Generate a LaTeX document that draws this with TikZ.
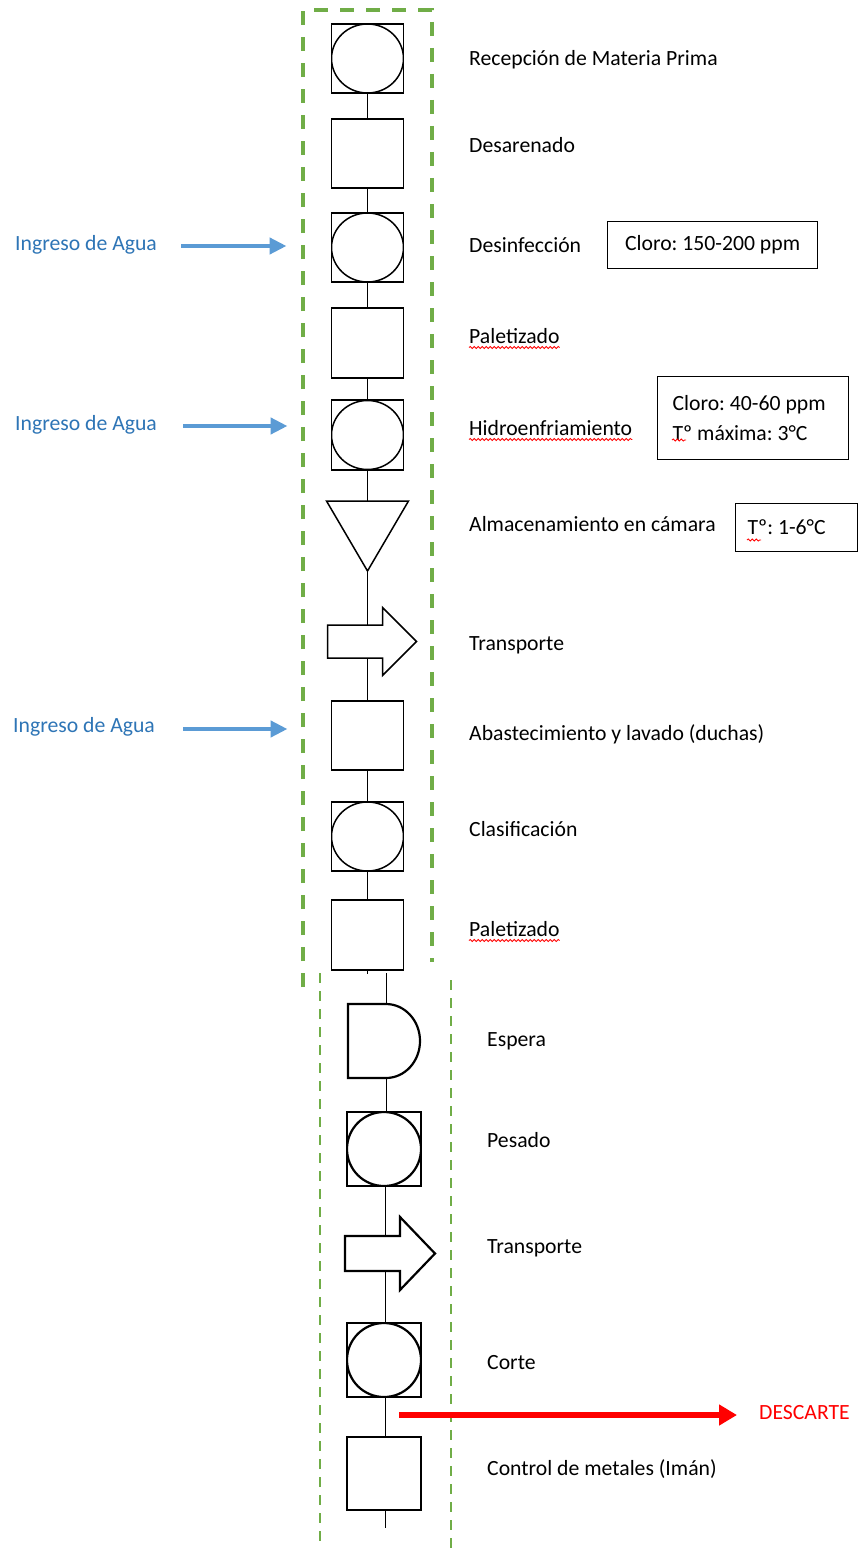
\documentclass[tikz,border=0pt]{standalone}
\usepackage{fontspec}
\setmainfont{Carlito}
\usetikzlibrary{arrows.meta,decorations.pathmorphing}
\definecolor{grn}{HTML}{70AD47}
\definecolor{bluA}{HTML}{5B9BD5}
\definecolor{bluT}{HTML}{2E75B6}
\newcommand\myfs{\fontsize{21.7pt}{30pt}\selectfont\frenchspacing}
\begin{document}
\begin{tikzpicture}[x=1pt,y=1pt,
  sq/.style={draw, line width=1.5pt, minimum width=72pt, minimum height=69pt, inner sep=0pt, outer sep=0pt},
  sqc/.style={sq, path picture={\draw[line width=1.5pt] (path picture bounding box.center) ellipse [x radius=36pt, y radius=34.5pt];}},
  bsq/.style={draw, line width=2.2pt, minimum width=74pt, minimum height=74pt, inner sep=0pt, outer sep=0pt},
  bsqc/.style={bsq, path picture={\draw[line width=2.2pt] (path picture bounding box.center) ellipse [x radius=37pt, y radius=37pt];}},
  helper/.style={draw=none, inner sep=0pt, outer sep=0pt},
  tline/.style={line width=1.5pt},
  bline/.style={line width=1pt},
  tshape/.style={line width=1.5pt, line join=miter},
  bshape/.style={line width=2.2pt, line join=miter},
  lbl/.style={anchor=base west, inner sep=0pt, font=\myfs},
  note/.style={draw, line width=1.2pt, inner sep=0pt, font=\myfs, align=flush left, anchor=north west},
  agua/.style={anchor=base west, inner sep=0pt, font=\myfs, text=bluT},
  bluarrow/.style={draw=bluA, line width=4.5pt, -{Triangle[length=17pt,width=16pt]}},
  redarrow/.style={draw=red, line width=6pt, -{Triangle[length=18pt,width=20pt]}},
  gdashT/.style={draw=grn, line width=3.5pt, dash pattern=on 14pt off 12pt},
  gdashB/.style={draw=grn, line width=2.5pt, dash pattern=on 10pt off 8pt},
  squig/.style={draw=red, line width=0.8pt, decorate, decoration={snake, segment length=4pt, amplitude=1.1pt}}
]
\useasboundingbox (0,0) rectangle (858,-1549);
\fill[white] (0,0) rectangle (858,-1549);

% green dashed frames
\draw[gdashT] (303,-987) -- (303,-10) -- (432,-10) -- (432,-962);
\draw[gdashB] (320,-973) -- (320,-1549);
\draw[gdashB] (451,-980) -- (451,-1549);

% top column
\node[sqc] (r1) at (367.5,-58.5) {};
\node[sq]  (r2) at (367.5,-153.5) {};
\node[sqc] (r3) at (367.5,-247.5) {};
\node[sq, minimum height=70pt] (r4) at (367.5,-343) {};
\node[sqc, minimum height=70pt] (r5) at (367.5,-435) {};
\node[helper, minimum width=82pt, minimum height=70pt] (r6) at (367.5,-536) {};
\draw[tshape] (r6.north west) -- (r6.north east) -- (r6.south) -- cycle;
\node[helper, minimum width=0pt, minimum height=33pt] (r7) at (367.5,-641.5) {};
\begin{scope}[shift={(r7.center)}]
  \draw[tshape] (-40,16.5) -- (15,16.5) -- (15,34) -- (49,0) -- (15,-34) -- (15,-16.5) -- (-40,-16.5) -- cycle;
\end{scope}
\node[sq]  (r8) at (367.5,-735.5) {};
\node[sqc] (r9) at (367.5,-836.5) {};
\node[sq, minimum height=70pt] (r10) at (367.5,-935) {};

\draw[tline] (r1.south) -- (r2.north);
\draw[tline] (r2.south) -- (r3.north);
\draw[tline] (r3.south) -- (r4.north);
\draw[tline] (r4.south) -- (r5.north);
\draw[tline] (r5.south) -- (r6.north);
\draw[tline] (r6.south) -- (r7.north);
\draw[tline] (r7.south) -- (r8.north);
\draw[tline] (r8.south) -- (r9.north);
\draw[tline] (r9.south) -- (r10.north);
\coordinate (stub) at ([yshift=-4pt]r10.south);
\draw[tline] (r10.south) -- (stub);

% bottom column
\node[helper, minimum width=72pt, minimum height=74pt] (b1) at (384,-1041) {};
\draw[bshape] (b1.north west) -- ([xshift=-34pt]b1.north east) arc[start angle=90, end angle=-90, x radius=34pt, y radius=37pt] -- (b1.south west) -- cycle;
\node[bsqc] (b2) at (384,-1149) {};
\node[helper, minimum width=0pt, minimum height=35pt] (b3) at (385,-1253.5) {};
\begin{scope}[shift={(b3.center)}]
  \draw[bshape] (-40,17.5) -- (15,17.5) -- (15,36.5) -- (50,0) -- (15,-36.5) -- (15,-17.5) -- (-40,-17.5) -- cycle;
\end{scope}
\node[bsqc] (b4) at (384,-1360) {};
\node[bsq, minimum height=73pt] (b5) at (384,-1473.5) {};
\coordinate (btop) at (386,-973);
\coordinate (bend) at (385,-1528);

\draw[bline] (btop) -- (btop |- b1.north);
\draw[bline] (b1.south -| btop) -- (b2.north -| btop);
\draw[bline] (b2.south -| b3.center) -- (b3.north);
\draw[bline] (b3.south) -- (b4.north -| b3.center);
\draw[bline] (b4.south -| b3.center) -- (b5.north -| b3.center);
\draw[bline] (b5.south -| bend) -- (bend);

% labels
\node[lbl] (l1) at (469,-66) {Recepción de Materia Prima};
\node[lbl] (l2) at (469,-153) {Desarenado};
\node[lbl] (l3) at (469,-252) {Desinfección};
\node[lbl] (l4) at (469,-343) {Paletizado};
\node[lbl] (l5) at (469,-435) {Hidroenfriamiento};
\node[lbl] (l6) at (469,-531) {Almacenamiento en cámara};
\node[lbl] (l7) at (469,-650) {Transporte};
\node[lbl] (l8) at (469,-740) {Abastecimiento y lavado (duchas)};
\node[lbl] (l9) at (469,-836) {Clasificación};
\node[lbl] (l10) at (469,-936) {Paletizado};
\node[lbl] (m1) at (487,-1046) {Espera};
\node[lbl] (m2) at (487,-1147) {Pesado};
\node[lbl] (m3) at (487,-1253) {Transporte};
\node[lbl] (m4) at (487,-1369) {Corte};
\node[lbl] (m5) at (487,-1475) {Control de metales (Imán)};

% notes
\node[note, minimum width=210pt, minimum height=47pt] (n1) at (607,-221) {Cloro: 150-200 ppm};
\node[note, inner xsep=15pt, text width=161pt, minimum height=83pt] (n2) at (657,-376) {Cloro: 40-60 ppm\\Tº máxima: 3°C};
\node[note, inner xsep=12pt, text width=98pt, minimum height=48pt] (n3) at (735,-503) {Tº: 1-6°C};

% spell-check squiggles
\draw[squig] ([yshift=-4.5pt]l4.base west) -- ([yshift=-4.5pt]l4.base east);
\draw[squig] ([yshift=-4.5pt]l10.base west) -- ([yshift=-4.5pt]l10.base east);
\draw[squig] ([yshift=-4.5pt]l5.base west) -- ([yshift=-4.5pt]l5.base east);
\draw[squig] ([xshift=15pt,yshift=-64pt]n2.north west) -- ++(14,0);
\draw[squig] ([xshift=12pt,yshift=-37pt]n3.north west) -- ++(14,0);

% water inputs
\node[agua] (a1) at (15,-250) {Ingreso de Agua};
\node[agua] (a2) at (15,-430) {Ingreso de Agua};
\node[agua] (a3) at (13,-732) {Ingreso de Agua};
\coordinate (a1s) at (181,-246);
\coordinate (a2s) at (183,-426);
\coordinate (a3s) at (183,-729);
\draw[bluarrow, shorten >=45pt] (a1s) -- (a1s -| r3.west);
\draw[bluarrow, shorten >=44pt] (a2s) -- (a2s -| r5.west);
\draw[bluarrow, shorten >=44pt] (a3s) -- (a3s -| r8.west);

% discard
\node[anchor=base west, inner sep=0pt, font=\myfs, text=red] (desc) at (759,-1419) {DESCARTE};
\coordinate (ds) at (399,-1415);
\draw[redarrow, shorten >=22pt] (ds) -- (ds -| desc.west);
\end{tikzpicture}
\end{document}
